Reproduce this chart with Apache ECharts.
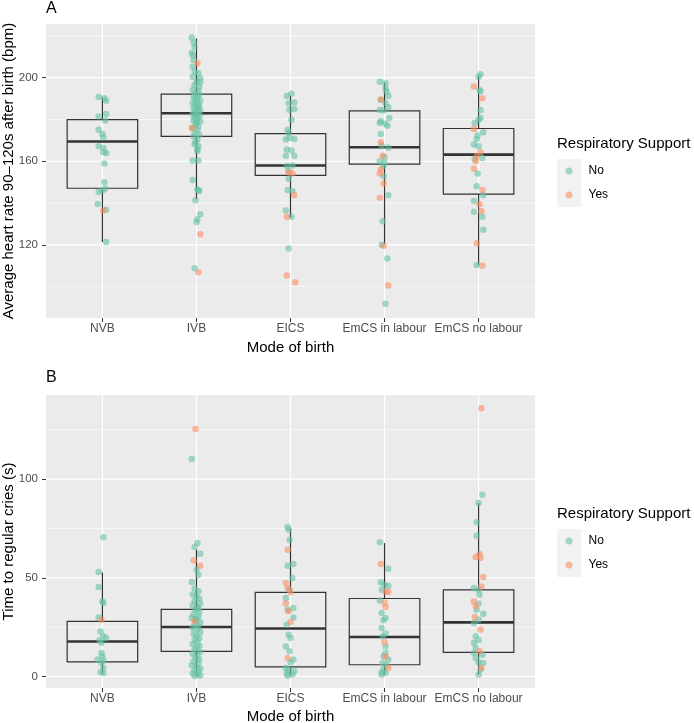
<!DOCTYPE html>
<html>
<head>
<meta charset="utf-8">
<script src="https://cdn.jsdelivr.net/npm/echarts@6/dist/echarts.min.js"></script>
<style>
  html, body { margin: 0; padding: 0; background: #fff; }
  #chart { width: 694px; height: 723px; }
</style>
</head>
<body>
<div id="chart"></div>
<script>
const categories = ['NVB', 'IVB', 'EICS', 'EmCS in labour', 'EmCS no labour'];

const hrTicks = [120, 160, 200];
const hrMinorTicks = [100, 140, 180, 220];
const criesTicks = [0, 50, 100];
const criesMinorTicks = [25, 75, 125];

// box stats: [lower whisker, Q1, median, Q3, upper whisker]
const hrBoxes = [
  [121.4, 147.1, 169.5, 179.9, 190.5],
  [141.8, 171.9, 183.0, 192.1, 218.8],
  [133.0, 153.3, 158.0, 173.2, 191.4],
  [120.3, 158.6, 166.7, 184.1, 197.6],
  [110.3, 144.3, 163.2, 175.7, 200.8]
];
const criesBoxes = [
  [1.2, 7.4, 17.7, 27.9, 52.7],
  [0.2, 12.7, 25.0, 34.0, 64.4],
  [0.4, 4.8, 24.3, 42.6, 74.7],
  [0.9, 5.9, 20.0, 39.5, 67.6],
  [0.9, 12.2, 27.4, 43.9, 87.9]
];

// jittered points per category: [jitter offset (category units), value]
const hrNo = [
  [[-0.04,190.8],[0.02,190.2],[0.04,189.0],[-0.04,181.4],[0.04,182.6],[0.03,179.5],[-0.04,175.1],[0,173.0],[0.01,171.4],[-0.04,167.2],[0.01,166.4],[0.04,164.0],[0.01,164.3],[0.02,158.9],[0.02,150.0],[-0.04,145.3],[0.03,147.0],[0,146.0],[-0.05,139.5],[0.04,136.8],[0.04,121.4]],
  [[-0.05,219.2],[-0.03,216.8],[-0.02,214.8],[-0.05,212.0],[-0.04,210.8],[-0.03,208.5],[-0.04,205.3],[-0.02,202.9],[0.02,202.1],[-0.04,200.5],[0.04,199.7],[0,198.1],[0.04,198.0],[-0.02,196.5],[0.03,195.5],[-0.04,194.2],[0.02,193.4],[-0.01,192.5],[0.03,191.8],[-0.03,191.0],[0.01,190.4],[-0.02,189.6],[0.04,189.0],[0,188.4],[-0.04,187.8],[0.02,187.2],[-0.01,186.5],[0.03,186.0],[-0.03,185.4],[0.01,184.8],[0.04,184.2],[-0.02,183.6],[0.02,183.0],[-0.04,182.5],[0,182.0],[0.03,181.4],[-0.02,180.8],[0.01,180.2],[-0.03,179.5],[0.04,179.0],[0,178.3],[-0.01,177.5],[0.02,176.8],[-0.04,176.0],[0.01,174.8],[-0.02,173.5],[0.03,172.6],[-0.03,171.8],[0.01,170.4],[-0.01,169.0],[-0.02,168.2],[0.02,167.2],[0.01,165.8],[0.01,164.8],[-0.04,160.4],[0.02,160.4],[-0.04,151.0],[0.01,146.5],[0.03,145.8],[0.02,146.2],[-0.01,141.3],[0.04,134.6],[0.01,132.3],[0,131.0],[-0.02,108.8]],
  [[-0.04,191.3],[0.01,192.3],[-0.02,187.8],[0.04,188.1],[-0.01,184.6],[0.04,185.0],[0.01,179.9],[-0.03,175.1],[-0.02,173.5],[-0.05,170.4],[0.04,170.7],[-0.01,171.2],[-0.04,165.6],[0.01,165.2],[-0.05,162.7],[0.04,162.7],[-0.04,157.7],[0.02,158.0],[-0.02,155.3],[-0.02,151.6],[-0.03,146.2],[0.02,145.8],[-0.05,136.5],[0.01,133.5],[-0.02,118.3]],
  [[-0.05,198.1],[0.01,197.3],[0.01,195.0],[0.02,193.4],[0.04,191.3],[-0.04,189.4],[0.01,187.8],[0.04,185.9],[-0.05,184.6],[-0.01,184.3],[0.05,180.7],[-0.04,179.1],[0.01,178.0],[-0.05,178.5],[0.03,177.0],[-0.04,173.1],[-0.03,167.5],[0.04,166.5],[0,162.1],[-0.05,160.0],[0,159.2],[-0.01,157.7],[-0.01,152.9],[0.04,143.7],[-0.02,131.3],[-0.03,120.0],[0.03,113.5],[0.01,91.8]],
  [[0.02,201.6],[0,200.5],[0.01,194.2],[0.02,193.4],[0.02,184.6],[0.02,180.7],[0,179.9],[-0.04,178.3],[0.05,173.9],[-0.01,172.3],[-0.02,170.7],[-0.05,168.0],[0,167.2],[-0.04,161.1],[0.04,161.6],[-0.01,154.2],[-0.02,148.1],[0.05,143.7],[-0.05,141.0],[-0.05,135.8],[0.04,133.5],[0.05,127.2],[-0.02,110.4]]
];
const hrYes = [
  [[0.01,136.4]],
  [[0.01,206.9],[-0.05,175.9],[0.04,125.1],[0.02,106.9]],
  [[0.02,154.2],[-0.02,154.8],[0.04,143.9],[-0.04,133.5],[-0.04,105.3],[0.05,102.1]],
  [[-0.04,189.6],[-0.04,169.1],[-0.02,162.7],[-0.04,156.1],[-0.05,154.2],[-0.01,149.4],[-0.05,142.6],[-0.01,119.6],[0.04,100.5]],
  [[-0.05,195.8],[0.04,190.2],[-0.05,175.4],[0.02,164.3],[-0.02,162.4],[-0.03,160.0],[-0.05,156.4],[0.04,146.2],[0.01,139.4],[0.03,136.2],[-0.02,120.8],[0.04,110.0]]
];

const criesNo = [
  [[0.01,70.5],[-0.04,52.9],[-0.04,45.3],[0,38.0],[0.01,37.2],[-0.04,29.9],[-0.02,22.8],[0.01,20.3],[0.04,19.5],[-0.03,18.3],[-0.01,17.0],[-0.01,11.9],[0,10.2],[-0.05,8.5],[0.01,8.1],[-0.01,6.8],[0.01,4.3],[-0.02,2.1],[0.01,1.7]],
  [[-0.05,110.3],[0.01,67.6],[-0.02,65.6],[0.04,62.2],[0,54.1],[0.02,51.6],[-0.05,47.8],[-0.02,44.5],[0.02,43.2],[-0.04,41.5],[0,40.6],[0.03,39.4],[-0.02,38.2],[0.04,37.0],[-0.04,36.1],[0.01,35.0],[-0.01,33.8],[0.03,32.6],[-0.03,31.5],[0.02,30.4],[-0.05,29.6],[0,28.8],[0.04,27.5],[-0.02,26.4],[0.02,25.6],[-0.04,24.7],[0.01,23.8],[0.04,22.5],[-0.03,21.6],[0,20.5],[0.03,19.4],[-0.02,18.6],[0.01,17.5],[-0.04,16.4],[0.03,15.5],[0,14.6],[-0.02,13.5],[0.04,12.4],[-0.04,11.5],[0.01,10.6],[-0.01,9.5],[0.03,8.6],[-0.03,7.5],[0.02,6.6],[-0.05,5.6],[0,4.8],[0.04,4.0],[-0.02,3.2],[0.02,2.4],[-0.04,1.6],[0.01,1.0],[0.04,0.5],[-0.02,0.2],[0.02,34.4],[-0.01,29.0]],
  [[-0.03,75.7],[-0.02,74.4],[-0.01,69.3],[-0.03,56.1],[0.03,57.0],[0.02,49.9],[-0.01,43.9],[-0.05,39.7],[-0.03,33.8],[0.03,34.7],[0.03,29.9],[-0.04,26.2],[-0.02,21.1],[0,19.5],[-0.05,15.2],[-0.01,12.7],[0.03,8.5],[0,7.1],[-0.05,4.3],[-0.02,3.4],[0.04,2.6],[-0.04,1.4],[0.02,0.9],[-0.03,0.4]],
  [[-0.05,68.0],[0.04,54.6],[-0.04,47.7],[0,46.5],[0.04,46.0],[-0.03,43.9],[-0.05,38.5],[-0.03,32.1],[0.01,29.6],[-0.01,28.4],[-0.03,24.5],[0.01,21.7],[-0.02,20.3],[0.01,15.2],[0.01,11.9],[-0.01,10.2],[0.04,8.5],[-0.02,6.8],[0.02,5.9],[-0.01,3.7],[-0.03,2.1],[0.01,1.7],[-0.03,0.9]],
  [[0.04,92.1],[0,87.9],[-0.02,78.1],[-0.02,71.3],[-0.05,44.8],[0,43.9],[0.01,41.4],[0,37.0],[-0.02,33.8],[0.05,31.8],[0,28.7],[-0.05,27.1],[-0.03,20.3],[0,18.3],[-0.05,17.0],[-0.05,11.9],[0.04,11.0],[-0.03,9.3],[0,7.1],[0.05,6.8],[0,0.9],[-0.03,14.5],[0.02,3.5]]
];
const criesYes = [
  [[-0.01,28.7]],
  [[-0.01,125.4],[-0.03,58.8],[0.04,56.1],[-0.02,27.9]],
  [[-0.03,64.2],[-0.05,47.3],[-0.03,44.8],[0,42.6],[-0.05,36.9],[-0.02,33.0],[0,27.6],[-0.03,9.3]],
  [[-0.04,57.0],[0.01,43.1],[0.04,42.8],[0,37.5],[0.01,35.2],[0,17.3],[0.01,10.0],[0.04,4.3]],
  [[0.03,136.0],[-0.03,60.5],[0.01,62.2],[0.02,60.0],[0.05,50.4],[0.03,45.6],[-0.05,38.0],[-0.03,35.5],[-0.04,30.1],[0.02,23.7],[0.01,12.7],[0.03,4.3]]
];

const FONT = '"Liberation Sans", Arial, sans-serif';
const GREEN = '#66c2a5';
const ORANGE = '#fc8d62';
const DARK = '#333333';

const chart = echarts.init(document.getElementById('chart'));

function toPoints(groups) {
  const out = [];
  groups.forEach(function (pts, c) {
    pts.forEach(function (p) { out.push([c + p[0], p[1]]); });
  });
  return out;
}

function gridLineData(major, minor) {
  const d = [];
  major.forEach(v => d.push([v, 0]));
  minor.forEach(v => d.push([v, 1]));
  categories.forEach((c, i) => d.push([i, 2]));
  return d;
}

function renderGridLine(params, api) {
  const v = api.value(0);
  const kind = api.value(1);
  const cs = params.coordSys;
  let shape;
  if (kind === 2) {
    const x = api.coord([v, 0])[0];
    shape = { x1: x, y1: cs.y, x2: x, y2: cs.y + cs.height };
  } else {
    const y = api.coord([0, v])[1];
    shape = { x1: cs.x, y1: y, x2: cs.x + cs.width, y2: y };
  }
  return {
    type: 'line',
    shape: shape,
    silent: true,
    style: { stroke: '#ffffff', lineWidth: kind === 1 ? 0.6 : 1.2 }
  };
}

function renderBox(params, api) {
  const c = api.value(0);
  const half = api.size([0.75, 0])[0] / 2;
  const pMin = api.coord([c, api.value(1)]);
  const pQ1 = api.coord([c, api.value(2)]);
  const pMed = api.coord([c, api.value(3)]);
  const pQ3 = api.coord([c, api.value(4)]);
  const pMax = api.coord([c, api.value(5)]);
  const x = pMin[0];
  const line = { stroke: DARK, lineWidth: 1.2 };
  return {
    type: 'group',
    children: [
      { type: 'line', shape: { x1: x, y1: pMax[1], x2: x, y2: pQ3[1] }, style: line },
      { type: 'line', shape: { x1: x, y1: pQ1[1], x2: x, y2: pMin[1] }, style: line },
      { type: 'rect', shape: { x: x - half, y: pQ3[1], width: 2 * half, height: pQ1[1] - pQ3[1] },
        style: { stroke: DARK, lineWidth: 1.2, fill: 'none' } },
      { type: 'line', shape: { x1: x - half, y1: pMed[1], x2: x + half, y2: pMed[1] },
        style: { stroke: DARK, lineWidth: 2.6 } }
    ]
  };
}

function makeXAxis(gridIndex, nameGap) {
  return {
    type: 'value', gridIndex: gridIndex, min: -0.6, max: 4.6,
    name: 'Mode of birth', nameLocation: 'middle', nameGap: nameGap, nameMoveOverlap: false,
    nameTextStyle: { fontFamily: FONT, fontSize: 15, color: '#000' },
    axisLine: { show: false, onZero: false },
    splitLine: { show: false },
    axisTick: { show: true, length: 4, customValues: [0, 1, 2, 3, 4], lineStyle: { color: DARK, width: 1 } },
    axisLabel: {
      customValues: [0, 1, 2, 3, 4], margin: 5,
      fontFamily: FONT, fontSize: 12, color: '#4d4d4d',
      formatter: v => categories[Math.round(v)]
    }
  };
}

function makeYAxis(gridIndex, name, min, max, ticks) {
  return {
    type: 'value', gridIndex: gridIndex, min: min, max: max,
    name: name, nameLocation: 'middle', nameRotate: 90, nameGap: 30, nameMoveOverlap: false,
    nameTextStyle: { fontFamily: FONT, fontSize: 15, color: '#000' },
    axisLine: { show: false, onZero: false },
    splitLine: { show: false },
    axisTick: { show: true, length: 4, customValues: ticks, lineStyle: { color: DARK, width: 1 } },
    axisLabel: { customValues: ticks, margin: 8, fontFamily: FONT, fontSize: 11.5, color: '#4d4d4d' }
  };
}

function scatter(name, color, data, idx) {
  return {
    type: 'scatter', name: name, xAxisIndex: idx, yAxisIndex: idx,
    data: data, symbol: 'circle', symbolSize: 6.5, z: 3,
    itemStyle: { color: color, opacity: 0.6 },
    emphasis: { disabled: true }
  };
}

function legendTitle(top) {
  return { text: 'Respiratory Support', left: 557, top: top, padding: 0,
    textStyle: { fontFamily: FONT, fontSize: 15, fontWeight: 'normal', color: '#000' } };
}

function legend(top) {
  return {
    orient: 'vertical', left: 565.5, top: top, padding: 0, itemGap: 0,
    icon: 'circle', itemWidth: 7, itemHeight: 7, data: ['No', 'Yes'],
    textStyle: { fontFamily: FONT, fontSize: 12, color: '#000', lineHeight: 24, padding: [0, 0, 0, 11] }
  };
}

const option = {
  animation: false,
  backgroundColor: '#ffffff',
  title: [
    { text: 'A', left: 46, top: 1, padding: 0, textStyle: { fontFamily: FONT, fontSize: 16, fontWeight: 'normal', color: '#000' } },
    { text: 'B', left: 46, top: 370, padding: 0, textStyle: { fontFamily: FONT, fontSize: 16, fontWeight: 'normal', color: '#000' } },
    legendTitle(136),
    legendTitle(506)
  ],
  legend: [legend(159), legend(529)],
  graphic: [
    { type: 'rect', left: 557, top: 159, z: -1, shape: { width: 24, height: 48 }, style: { fill: '#f2f2f2' } },
    { type: 'rect', left: 557, top: 529, z: -1, shape: { width: 24, height: 48 }, style: { fill: '#f2f2f2' } }
  ],
  grid: [
    { left: 46, top: 24, width: 489, height: 294, outerBoundsMode: 'none', containLabel: false,
      show: true, backgroundColor: '#ebebeb', borderWidth: 0 },
    { left: 46, top: 395, width: 489, height: 293, outerBoundsMode: 'none', containLabel: false,
      show: true, backgroundColor: '#ebebeb', borderWidth: 0 }
  ],
  xAxis: [makeXAxis(0, 22), makeXAxis(1, 21)],
  yAxis: [
    makeYAxis(0, 'Average heart rate 90\u2013120s after birth (bpm)', 85.0, 225.7, hrTicks),
    makeYAxis(1, 'Time to regular cries (s)', -5.9, 142.7, criesTicks)
  ],
  series: [
    { type: 'custom', xAxisIndex: 0, yAxisIndex: 0, z: 1, silent: true, renderItem: renderGridLine,
      data: gridLineData(hrTicks, hrMinorTicks) },
    { type: 'custom', xAxisIndex: 1, yAxisIndex: 1, z: 1, silent: true, renderItem: renderGridLine,
      data: gridLineData(criesTicks, criesMinorTicks) },
    { type: 'custom', xAxisIndex: 0, yAxisIndex: 0, z: 2, silent: true, renderItem: renderBox,
      encode: { x: 0, y: [1, 2, 3, 4, 5] },
      data: hrBoxes.map((b, i) => [i].concat(b)) },
    { type: 'custom', xAxisIndex: 1, yAxisIndex: 1, z: 2, silent: true, renderItem: renderBox,
      encode: { x: 0, y: [1, 2, 3, 4, 5] },
      data: criesBoxes.map((b, i) => [i].concat(b)) },
    scatter('No', GREEN, toPoints(hrNo), 0),
    scatter('Yes', ORANGE, toPoints(hrYes), 0),
    scatter('No', GREEN, toPoints(criesNo), 1),
    scatter('Yes', ORANGE, toPoints(criesYes), 1)
  ]
};

chart.setOption(option);
</script>
</body>
</html>
